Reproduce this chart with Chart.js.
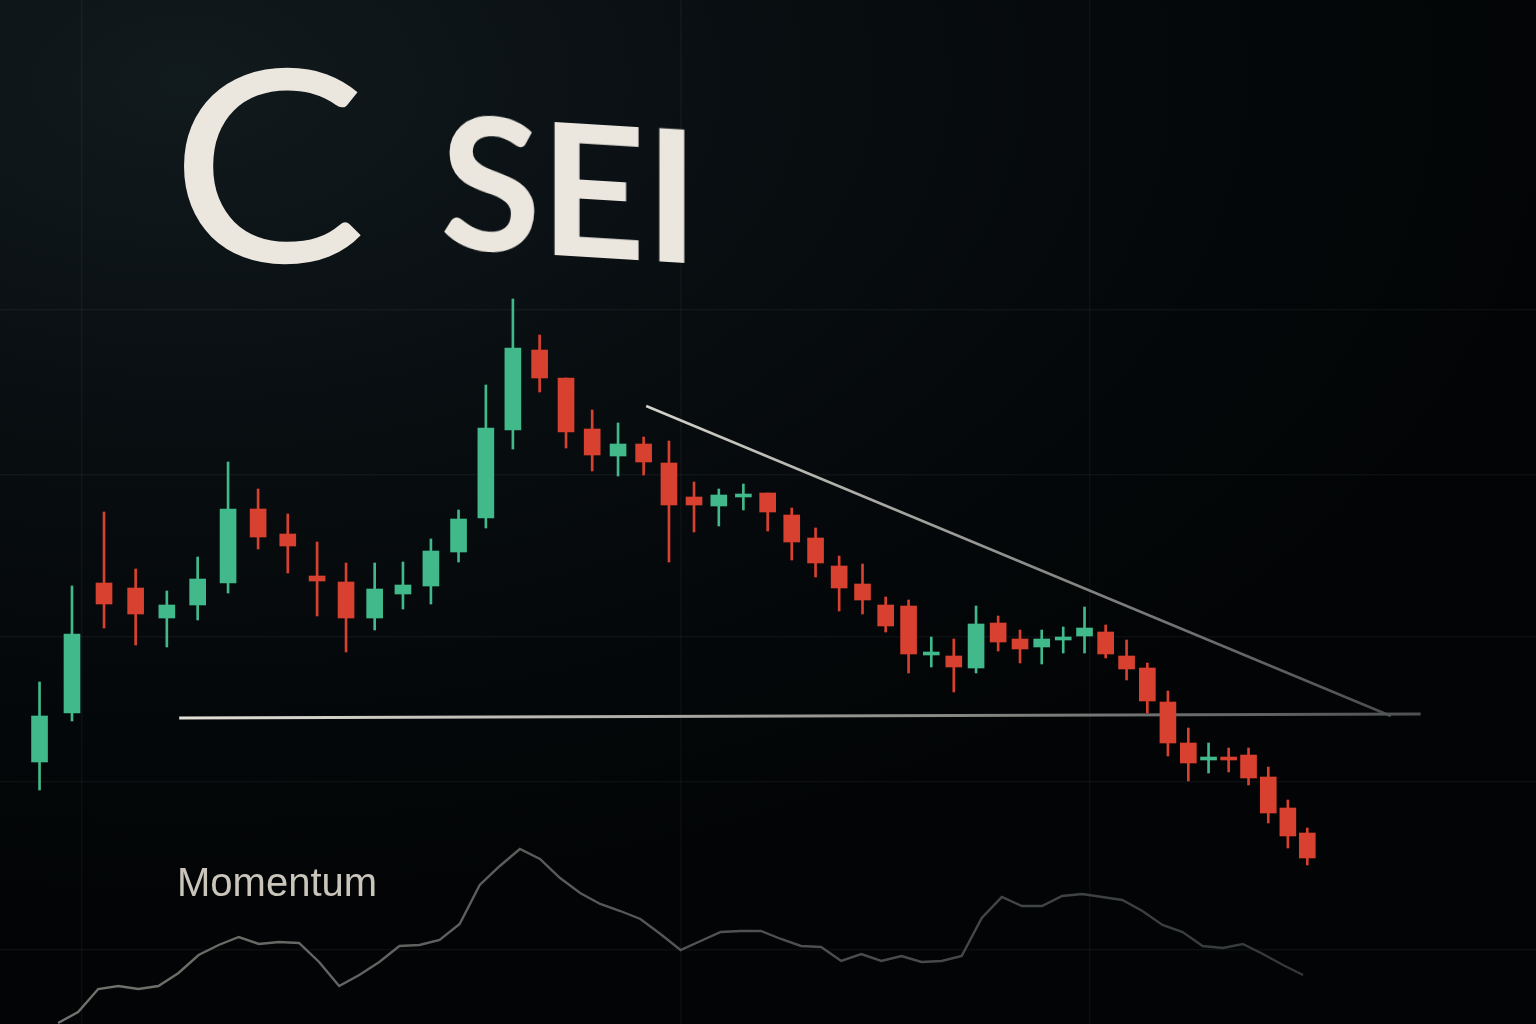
<!DOCTYPE html>
<html>
<head>
<meta charset="utf-8">
<title>SEI chart</title>
<script src="https://cdn.jsdelivr.net/npm/chart.js@4.4.1/dist/chart.umd.min.js"></script>
<style>
    html, body {
        margin: 0;
        padding: 0;
        width: 1536px;
        height: 1024px;
        overflow: hidden;
        background: radial-gradient(ellipse 90% 80% at 12% 8%, #111a1d 0%, #080d10 45%, #020405 100%);
    }
    #wrap {
        position: relative;
        width: 1536px;
        height: 1024px;
    }
    #chart {
        position: absolute;
        left: 0;
        top: 0;
    }
    .logo {
        position: absolute;
        left: 170px;
        top: 24px;
        font-family: Lato, sans-serif;
        font-weight: 400;
        font-size: 268px;
        line-height: 1;
        color: #ebe7df;
        transform: scaleX(1.1);
        transform-origin: left top;
    }
    .ticker {
        position: absolute;
        left: 440px;
        top: 85px;
        font-family: Lato, sans-serif;
        font-weight: 700;
        font-size: 184px;
        line-height: 1;
        letter-spacing: -1px;
        color: #ebe7df;
        transform: skewY(3.5deg);
        transform-origin: left top;
    }
    .panel-label {
        position: absolute;
        left: 177px;
        top: 862px;
        font-family: "Liberation Sans", Arial, sans-serif;
        font-size: 40px;
        line-height: 1;
        color: #c9c5bb;
    }
</style>
</head>
<body>
<div id="wrap">
    <canvas id="chart" width="1536" height="1024"></canvas>
    <div class="logo">C</div>
    <div class="ticker">SEI</div>
    <div class="panel-label">Momentum</div>
</div>

<script>
// candle days (log axis gives the tilted / perspective look):
const days = [74, 75, 76, 77, 78, 79, 80, 81, 82, 83, 84, 85, 86, 87, 88, 89, 90,
    91, 92, 93, 94, 95, 96, 97, 98, 99, 100, 101, 102, 103, 104, 105, 106, 107, 108,
    109, 110, 111, 112, 113, 114, 115, 116, 117, 118, 119, 120, 121, 122, 123, 124, 125];

// OHLC:
const opens = [0.262, 0.311, 0.441, 0.436, 0.406, 0.419, 0.441, 0.515, 0.490, 0.448,
    0.442, 0.406, 0.430, 0.438, 0.472, 0.506, 0.594, 0.674, 0.646, 0.595,
    0.568, 0.580, 0.561, 0.527, 0.518, 0.527, 0.531, 0.509, 0.486, 0.458,
    0.440, 0.419, 0.418, 0.369, 0.368, 0.356, 0.401, 0.385, 0.377, 0.384,
    0.388, 0.392, 0.368, 0.356, 0.322, 0.281, 0.264, 0.267, 0.269, 0.247,
    0.216, 0.191];
const highs = [0.342, 0.438, 0.512, 0.455, 0.433, 0.467, 0.562, 0.535, 0.510, 0.482,
    0.461, 0.461, 0.462, 0.485, 0.514, 0.639, 0.725, 0.689, 0.646, 0.614,
    0.601, 0.587, 0.583, 0.542, 0.535, 0.540, 0.531, 0.516, 0.496, 0.468,
    0.460, 0.427, 0.424, 0.387, 0.385, 0.418, 0.408, 0.394, 0.394, 0.397,
    0.417, 0.399, 0.384, 0.361, 0.333, 0.296, 0.281, 0.276, 0.276, 0.257,
    0.224, 0.196];
const lows = [0.234, 0.303, 0.396, 0.379, 0.377, 0.404, 0.431, 0.475, 0.451, 0.408,
    0.372, 0.394, 0.415, 0.420, 0.462, 0.496, 0.575, 0.632, 0.576, 0.553,
    0.548, 0.549, 0.462, 0.492, 0.498, 0.514, 0.493, 0.464, 0.447, 0.413,
    0.410, 0.392, 0.351, 0.357, 0.332, 0.351, 0.373, 0.361, 0.360, 0.371,
    0.371, 0.366, 0.344, 0.311, 0.268, 0.243, 0.251, 0.252, 0.239, 0.201,
    0.176, 0.159];
const closes = [0.308, 0.390, 0.420, 0.410, 0.419, 0.445, 0.515, 0.487, 0.478, 0.443,
    0.406, 0.435, 0.439, 0.473, 0.505, 0.596, 0.676, 0.646, 0.592, 0.569,
    0.580, 0.562, 0.519, 0.519, 0.529, 0.529, 0.512, 0.482, 0.461, 0.436,
    0.424, 0.398, 0.370, 0.371, 0.357, 0.400, 0.382, 0.375, 0.385, 0.386,
    0.396, 0.370, 0.355, 0.323, 0.281, 0.261, 0.267, 0.264, 0.246, 0.211,
    0.188, 0.166];

// support + descending trend line (day, price):
const supportDays = [78.4, 131];
const supportPrices = [0.306, 0.310];
const trendDays = [95.1, 129.4];
const trendPrices = [0.618, 0.308];

// momentum oscillator, evenly spaced samples:
const momentum = [-23, -12, 11, 14, 11, 14, 27, 45, 55, 63,
    56, 58, 57, 38, 14, 25, 38, 54, 55, 60,
    76, 115, 134, 151, 141, 122, 107, 96, 89, 81,
    66, 50, 59, 68, 69, 69, 61, 54, 53, 39,
    46, 39, 44, 38, 39, 44, 82, 103, 94, 94,
    104, 106, 103, 100, 89, 75, 68, 54, 52, 56,
    46, 35, 25];

// faint grid positions:
const priceGrid = [0.714, 0.549, 0.387, 0.242, 0.074];
const momentumGrid = [1.2, 31, 51.4];

const GREEN = '#41b98b';
const RED = '#d8412f';

// colour of each candle:
const candleColors = opens.map((o, i) => closes[i] >= o ? GREEN : RED);

// horizontal fading stroke (bright on the left, dim on the right):
function fade(x0, x1, from, to) {
    return (ctx) => {
        const chart = ctx.chart;
        if (!chart.chartArea) return from;
        const g = chart.ctx.createLinearGradient(x0, 0, x1, 0);
        g.addColorStop(0, from);
        g.addColorStop(1, to);
        return g;
    };
}

const chart = new Chart(document.getElementById('chart'), {
    type: 'bar',
    data: {
        datasets: [
            {
                // wicks
                label: 'wick',
                data: days.map((d, i) => ({ x: d, y: [lows[i], highs[i]] })),
                backgroundColor: candleColors,
                barThickness: 2,
                grouped: false,
                order: 1,
                xAxisID: 'x',
                yAxisID: 'y'
            },
            {
                // bodies
                label: 'body',
                data: days.map((d, i) => ({ x: d, y: [opens[i], closes[i]] })),
                backgroundColor: candleColors,
                barThickness: 16,
                minBarLength: 3,
                grouped: false,
                order: 0,
                xAxisID: 'x',
                yAxisID: 'y'
            },
            {
                type: 'line',
                label: 'support',
                data: supportDays.map((d, i) => ({ x: d, y: supportPrices[i] })),
                borderColor: fade(180, 1420, '#e4e0d8', '#4e5152'),
                borderWidth: 3,
                pointRadius: 0,
                order: 2,
                xAxisID: 'x',
                yAxisID: 'y'
            },
            {
                type: 'line',
                label: 'trend',
                data: trendDays.map((d, i) => ({ x: d, y: trendPrices[i] })),
                borderColor: fade(645, 1390, '#d4d2cc', '#4a4d4e'),
                borderWidth: 2.5,
                pointRadius: 0,
                order: 2,
                xAxisID: 'x',
                yAxisID: 'y'
            },
            {
                type: 'line',
                label: 'Momentum',
                data: momentum.map((v, i) => ({ x: i, y: v })),
                borderColor: fade(60, 1300, '#72726e', '#34383a'),
                borderWidth: 2.4,
                pointRadius: 0,
                tension: 0,
                order: 3,
                xAxisID: 'xm',
                yAxisID: 'ym'
            }
        ]
    },
    options: {
        responsive: false,
        maintainAspectRatio: false,
        animation: false,
        layout: { padding: 0 },
        plugins: {
            legend: { display: false },
            tooltip: { enabled: false }
        },
        scales: {
            x: {
                type: 'logarithmic',
                min: 72.8,
                max: 137.4,
                offset: false,
                display: false
            },
            y: {
                type: 'linear',
                min: 0,
                max: 1.024,
                position: 'left',
                afterBuildTicks: (axis) => {
                    axis.ticks = priceGrid.map(v => ({ value: v }));
                },
                ticks: { display: false },
                border: { display: false },
                grid: { color: 'rgba(255,255,255,0.045)', lineWidth: 1.5, drawTicks: false }
            },
            xm: {
                type: 'linear',
                min: -2.89,
                max: 73.6,
                offset: false,
                position: 'bottom',
                afterBuildTicks: (axis) => {
                    axis.ticks = momentumGrid.map(v => ({ value: v }));
                },
                ticks: { display: false },
                border: { display: false },
                grid: { color: 'rgba(255,255,255,0.04)', lineWidth: 1.5, drawTicks: false, offset: false }
            },
            ym: {
                type: 'linear',
                min: -24,
                max: 1000,
                display: false
            }
        }
    }
});
</script>
</body>
</html>
